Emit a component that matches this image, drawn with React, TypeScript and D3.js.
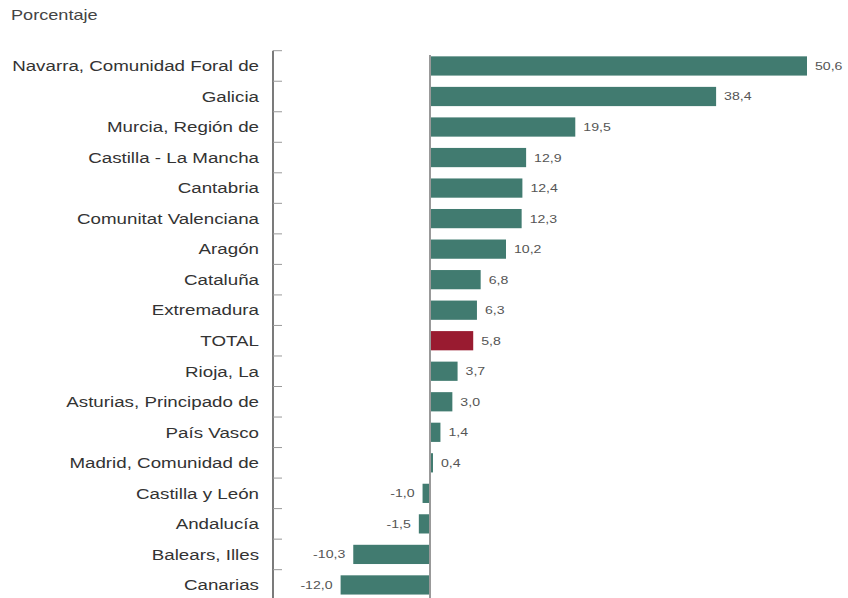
import React from "react";
import * as d3 from "d3";

const categories = [
  "Navarra, Comunidad Foral de",
  "Galicia",
  "Murcia, Región de",
  "Castilla - La Mancha",
  "Cantabria",
  "Comunitat Valenciana",
  "Aragón",
  "Cataluña",
  "Extremadura",
  "TOTAL",
  "Rioja, La",
  "Asturias, Principado de",
  "País Vasco",
  "Madrid, Comunidad de",
  "Castilla y León",
  "Andalucía",
  "Balears, Illes",
  "Canarias",
];
const values = [50.6, 38.4, 19.5, 12.9, 12.4, 12.3, 10.2, 6.8, 6.3, 5.8, 3.7, 3.0, 1.4, 0.4, -1.0, -1.5, -10.3, -12.0];
const yLabel = "Porcentaje";

const W = 848;
const H = 598;
const FONT = "'Liberation Sans', Arial, sans-serif";
const SX = 1.25;

function T(props: { x: number; y: number; size: number; anchor?: string; fill: string; children: React.ReactNode }) {
  return (
    <text
      transform={`translate(${props.x},${props.y}) scale(${SX},1)`}
      dy="0.35em"
      textAnchor={props.anchor || "start"}
      fontSize={props.size}
      fill={props.fill}
    >
      {props.children}
    </text>
  );
}

export default function App() {
  const x = d3.scaleLinear().domain([-12, 50.6]).range([340.6, 807]);
  const y = d3.scaleBand<string>().domain(categories).range([50.7, 600.2]).paddingInner(0.37).paddingOuter(0.185);
  const axisX = 273;
  const step = y.step();
  const top = 50.7;
  const fmt = (v: number) => v.toFixed(1).replace(".", ",");
  return (
    <svg width={W} height={H} style={{ position: "absolute", left: 0, top: 0, background: "#fff" }} fontFamily={FONT}>
      <T x={11} y={15} size={14.5} fill="#444">{yLabel}</T>
      <line x1={axisX} x2={axisX} y1={top} y2={H} stroke="#222" strokeWidth={1.2} />
      {d3.range(categories.length + 1).map((i) => (
        <line key={"t" + i} x1={axisX} x2={axisX + 9} y1={top + i * step} y2={top + i * step} stroke="#999" strokeWidth={1} />
      ))}
      {categories.map((c, i) => {
        const v = values[i];
        const x0 = x(Math.min(0, v));
        const x1 = x(Math.max(0, v));
        const yy = y(c)!;
        const cy = yy + y.bandwidth() / 2;
        return (
          <g key={c}>
            <T x={259} y={cy} anchor="end" size={15} fill="#333">{c}</T>
            <rect x={x0} y={yy} width={x1 - x0} height={y.bandwidth()} fill={c === "TOTAL" ? "#991b30" : "#417b70"} />
            <T x={v >= 0 ? x1 + 8 : x0 - 8} y={cy} anchor={v >= 0 ? "start" : "end"} size={11.3} fill="#555">
              {fmt(v)}
            </T>
          </g>
        );
      })}
      <line x1={x(0)} x2={x(0)} y1={55} y2={H} stroke="#999" strokeWidth={2} />
    </svg>
  );
}
